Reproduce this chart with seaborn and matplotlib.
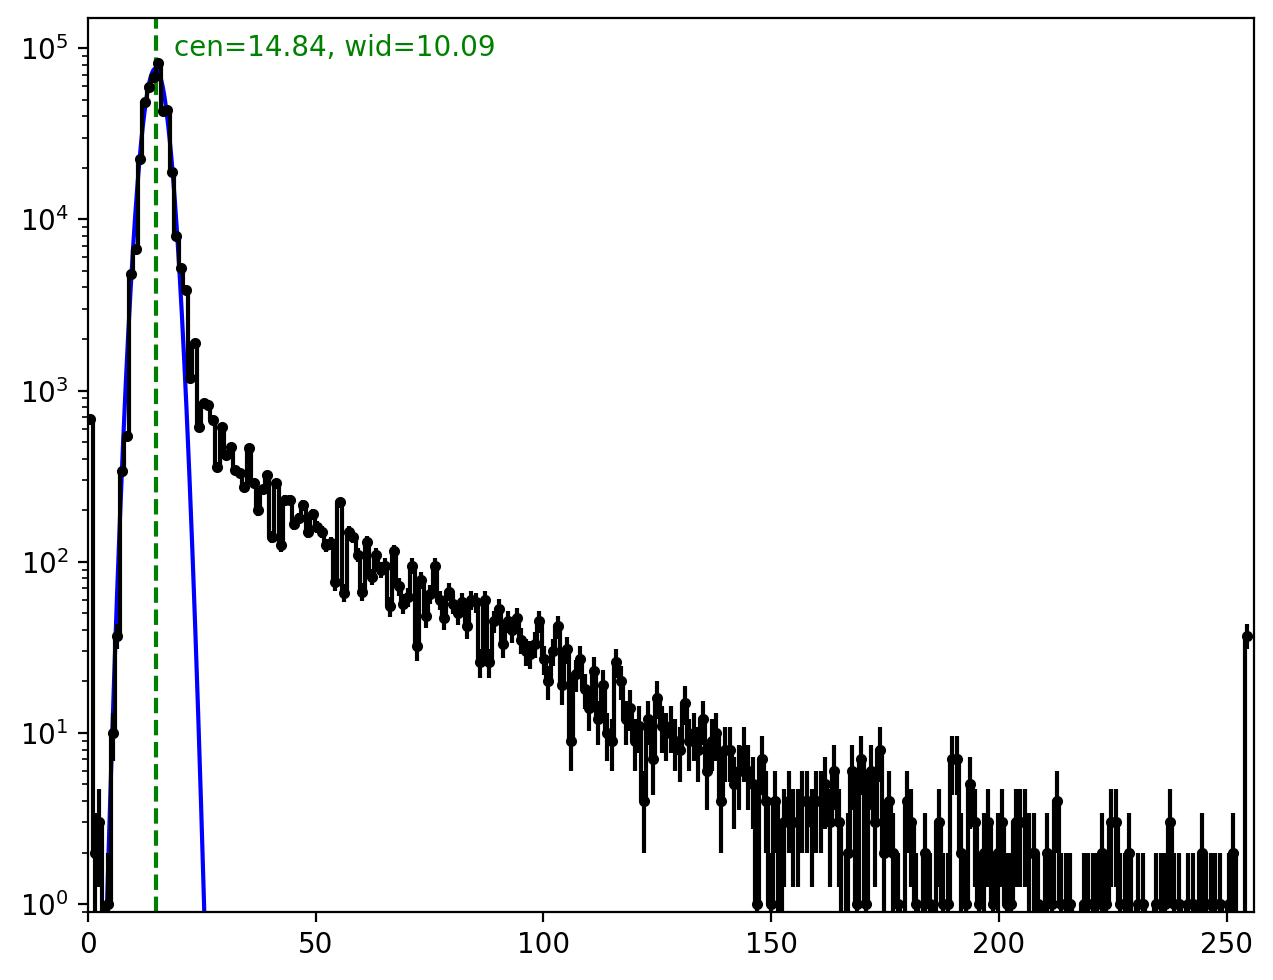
import numpy as np
import matplotlib
matplotlib.use('Agg')
import matplotlib.pyplot as plt
import seaborn as sns

# histogram counts, 256 bins over 0..255
counts = [
    680, 2, 3, 0, 1, 10, 37, 340, 540, 4800,
    6700, 22500, 48800, 59000, 67500, 81700, 42700, 43400, 18800, 8050,
    5200, 3870, 1190, 1900, 610, 850, 820, 670, 358, 614,
    420, 469, 343, 330, 274, 461, 290, 200, 265, 320,
    140, 289, 125, 230, 229, 167, 180, 214, 150, 190,
    160, 150, 125, 128, 76, 222, 66, 150, 140, 110,
    67, 130, 82, 110, 90, 95, 55, 115, 72, 57,
    62, 95, 32, 78, 48, 65, 95, 60, 47, 67,
    57, 50, 58, 42, 60, 58, 26, 60, 26, 45,
    53, 33, 45, 40, 47, 35, 30, 29, 33, 45,
    27, 20, 30, 42, 19, 31, 9, 22, 27, 18,
    14, 23, 12, 19, 10, 9, 26, 20, 12, 14,
    9, 11, 4, 12, 7, 16, 11, 10, 11, 9,
    8, 15, 9, 10, 8, 12, 6, 9, 10, 4,
    8, 8, 5, 6, 8, 6, 5, 1, 7, 4,
    1, 4, 0, 3, 4, 3, 3, 4, 4, 3,
    4, 4, 5, 3, 6, 3, 0, 2, 6, 1,
    7, 1, 6, 3, 8, 2, 4, 2, 1, 0,
    4, 3, 1, 0, 2, 1, 0, 3, 1, 1,
    7, 7, 2, 1, 5, 3, 1, 2, 3, 1,
    2, 3, 1, 1, 3, 3, 3, 2, 2, 1,
    0, 2, 1, 4, 1, 1, 1, 0, 0, 1,
    1, 1, 1, 2, 1, 3, 3, 1, 1, 2,
    0, 1, 1, 0, 0, 1, 1, 1, 3, 1,
    1, 0, 1, 1, 0, 2, 1, 1, 1, 1,
    0, 1, 2, 0, 0, 37,
]
hist_range = (0, 255)

# fit result
cen = 14.84
wid = 10.09
amp = 7.6e4

counts = np.array(counts, dtype=float)
edges = np.linspace(hist_range[0], hist_range[1], len(counts) + 1)
centers = (edges[:-1] + edges[1:]) / 2

xfit = np.linspace(0, 256, 2000)
yfit = amp * np.exp(-(xfit - cen) ** 2 / wid)

fig, ax = plt.subplots(figsize=(6.365, 4.9), dpi=200)
fig.subplots_adjust(left=0.0691, right=0.985, top=0.9816, bottom=0.0694)

sns.lineplot(x=xfit, y=yfit, color='blue', estimator=None, sort=False, ax=ax)
ax.errorbar(centers, counts, yerr=np.sqrt(counts), fmt='k.-', drawstyle='steps-mid')
ax.axvline(cen, color='green', linestyle='--')
ax.text(19, 1e5, f'cen={cen:.2f}, wid={wid:.2f}', color='green', va='center')

ax.set_yscale('log')
ax.set_xlim(0, 256)
ax.set_ylim(0.9, 1.5e5)

fig.savefig('out.png', dpi=200)
